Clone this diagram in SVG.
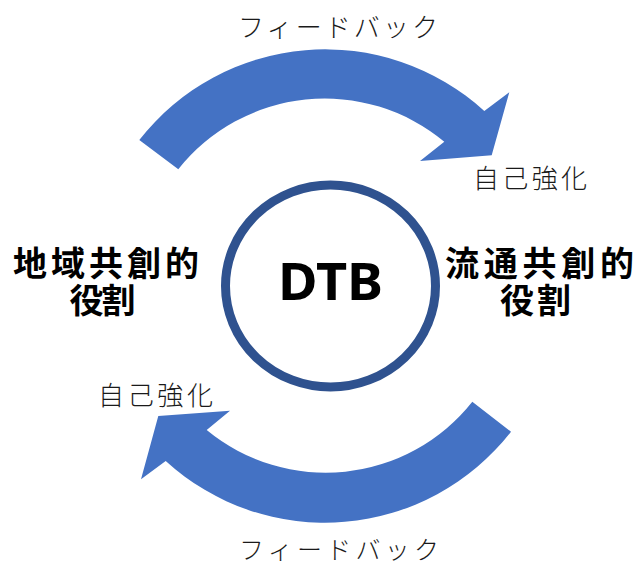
<svg xmlns="http://www.w3.org/2000/svg" width="640" height="566" viewBox="0 0 640 566">
<style>
.arrow{fill:#4472C4;stroke:none}
.thin{font-family:"Noto Sans CJK JP","Noto Sans",sans-serif;font-size:26px;fill:#1a1a1a;font-weight:300}
.bold{font-family:"Noto Sans CJK JP","Noto Sans",sans-serif;font-size:34px;fill:#000;font-weight:700}
.dtb{font-family:"Noto Sans","Open Sans",sans-serif;font-size:52px;fill:#000;font-weight:700}
</style>
<rect width="640" height="566" fill="#fff"/>
<g id="connectors">
<g id="arrow-top">
<path class="arrow" d="M139.3,140 A236,236 0 0 1 484.3,111 L509.3,92.3 L491.7,155.3 L420,161 L444.3,141.7 A187,187 0 0 0 178.3,169.3 Z"/>
</g>
<g id="arrow-bottom">
<path class="arrow" d="M511,431.7 A236,236 0 0 1 165.7,461 L141,479.3 L158.3,416 L230,410.7 L206.7,430 A187,187 0 0 0 472.3,401.7 Z"/>
</g>
<text class="thin" x="238" y="37" textLength="200" lengthAdjust="spacing">フィードバック</text>
<text class="thin" x="239" y="558.5" textLength="200" lengthAdjust="spacing" style="font-size:25px">フィードバック</text>
<text class="thin" x="473" y="188" textLength="114" lengthAdjust="spacing">自己強化</text>
<text class="thin" x="98" y="405" textLength="115" lengthAdjust="spacing">自己強化</text>
</g>
<g id="node-dtb">
<ellipse cx="330.5" cy="286" rx="105" ry="101" fill="#fff" stroke="#2F528F" stroke-width="9"/>
<text class="dtb" x="330.5" y="300" text-anchor="middle" textLength="105" lengthAdjust="spacingAndGlyphs">DTB</text>
</g>
<g id="node-left">
<text class="bold" x="13" y="276" textLength="186" lengthAdjust="spacing">地域共創的</text>
<text class="bold" x="69.5" y="313" textLength="66" lengthAdjust="spacing">役割</text>
</g>
<g id="node-right">
<text class="bold" x="445" y="276" textLength="189" lengthAdjust="spacing">流通共創的</text>
<text class="bold" x="500" y="313" textLength="71" lengthAdjust="spacing">役割</text>
</g>
</svg>
